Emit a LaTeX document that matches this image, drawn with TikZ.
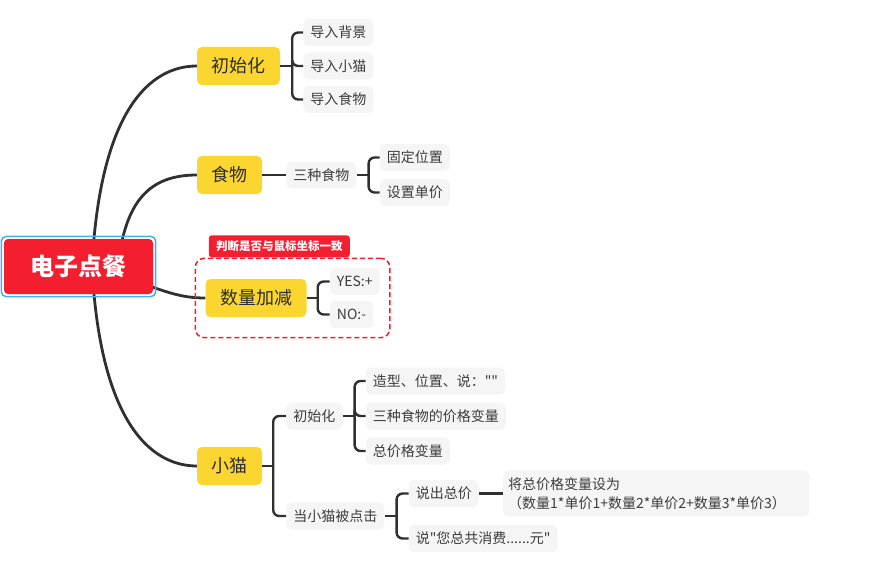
\documentclass[tikz,border=0pt]{standalone}
\usepackage{fontspec}
\setmainfont{Noto Sans CJK SC}[Ligatures=TeXOff]
\usetikzlibrary{positioning,fit,backgrounds}

\definecolor{rootred}{RGB}{243,31,47}
\definecolor{selblue}{RGB}{64,180,240}
\definecolor{topicyellow}{RGB}{252,214,48}
\definecolor{leafgray}{RGB}{245,245,245}
\definecolor{linegray}{RGB}{48,48,48}
\definecolor{textgray}{RGB}{60,60,60}
\definecolor{darktext}{RGB}{45,45,45}

\begin{document}
\begin{tikzpicture}[x=1pt, y=-1pt,
    every node/.style={font=\fontsize{14}{19}\selectfont, text=textgray},
    rootbox/.style={fill=rootred, rounded corners=4pt, minimum width=149pt, minimum height=55pt, text=white, font=\fontsize{24}{28}\selectfont\bfseries},
    topic/.style={fill=topicyellow, rounded corners=5pt, inner xsep=14.5pt, minimum height=38pt, text=darktext, font=\fontsize{18}{22}\selectfont},
    leaf/.style={fill=leafgray, rounded corners=5pt, inner xsep=7pt, minimum height=27pt},
    branch/.style={draw=linegray, line width=2.8pt},
    bracket/.style={draw=linegray, line width=2.4pt, rounded corners=6pt},
    tagbox/.style={fill=rootred, rounded corners=3pt, minimum width=141pt, minimum height=22pt, inner sep=0pt, text=white, font=\fontsize{11.5}{13}\selectfont\bfseries}]
    \useasboundingbox (0,0) rectangle (886,567);

    % 中心主题
    \node[rootbox] (root) at (78.5,266.5) {电子点餐};
    \draw[selblue, line width=1.5pt, rounded corners=5pt] ([xshift=-2.5pt,yshift=-2.5pt]root.south west) rectangle ([xshift=2.5pt,yshift=2.5pt]root.north east);

    % 分支主题
    \node[topic] (ini) at (238.5,66) {初始化};
    \node[topic] (food) at (229.5,175) {食物};
    \node[topic] (qty) at (256,298) {数量加减};
    \node[topic] (kitty) at (229.5,466) {小猫};

    % 初始化
    \node[leaf, right=23pt of ini, yshift=33.5pt] (bg) {导入背景};
    \node[leaf, right=23pt of ini] (cat) {导入小猫};
    \node[leaf, right=23pt of ini, yshift=-33.5pt] (foods) {导入食物};

    % 食物
    \node[leaf, right=24pt of food] (three) {三种食物};
    \node[leaf, right=23pt of three, yshift=17.5pt] (fix) {固定位置};
    \node[leaf, right=23pt of three, yshift=-17.5pt] (price) {设置单价};

    % 数量加减
    \node[leaf, right=23pt of qty, yshift=16.5pt] (yes) {YES:+};
    \node[leaf, right=23pt of qty, yshift=-16.5pt] (no) {NO:-};
    \node[draw=rootred, dash pattern=on 5pt off 3pt, line width=1.5pt, rounded corners=9pt, inner xsep=10pt, inner ysep=9.5pt, fit=(qty)(yes)(no)] (bnd) {};
    \node[tagbox, anchor=south west] (tag) at ([xshift=14pt]bnd.north west) {判断是否与鼠标坐标一致};

    % 小猫
    \node[leaf, right=24pt of kitty, yshift=50pt] (kinit) {初始化};
    \node[leaf, right=24pt of kitty, yshift=-50pt] (click) {当小猫被点击};
    \node[leaf, right=23pt of kinit, yshift=35pt] (look) {造型、位置、说：""};
    \node[leaf, right=23pt of kinit] (vars) {三种食物的价格变量};
    \node[leaf, right=23pt of kinit, yshift=-35pt] (total) {总价格变量};
    \node[leaf, right=24pt of click, yshift=22.5pt] (say) {说出总价};
    \node[leaf, right=24pt of click, yshift=-22.5pt] (spent) {说"您总共消费......元"};
    \node[leaf, right=24pt of say, text width=296pt, align=left, inner xsep=5pt, minimum height=46pt] (formula) {将总价格变量设为\\（数量1*单价1+数量2*单价2+数量3*单价3）};

    % 连线
    \begin{scope}[on background layer]
        \draw[branch] ([xshift=13.5pt]root.center) .. controls +(8,-156) and +(-47,0) .. (ini.west);
        \draw[branch] ([xshift=39.5pt]root.center) .. controls +(7,-66) and +(-47,0) .. (food.west);
        \draw[branch] ([xshift=41.5pt,yshift=-8.5pt]root.center) .. controls +(45,17) and +(-25,0) .. (qty.west);
        \draw[branch] ([xshift=13.5pt]root.center) .. controls +(8,154) and +(-47,0) .. (kitty.west);
    \end{scope}

    \draw[bracket] (ini.east) -- ([xshift=12pt]ini.east) coordinate (iniB);
    \foreach \c in {bg,cat,foods} \draw[bracket] (iniB) |- (\c.west);

    \draw[bracket] (food.east) -- (three.west);
    \draw[bracket] (three.east) -- ([xshift=12pt]three.east) coordinate (threeB);
    \foreach \c in {fix,price} \draw[bracket] (threeB) |- (\c.west);

    \draw[bracket] (qty.east) -- ([xshift=11pt]qty.east) coordinate (qtyB);
    \foreach \c in {yes,no} \draw[bracket] (qtyB) |- (\c.west);

    \draw[bracket] (kitty.east) -- ([xshift=11pt]kitty.east) coordinate (kittyB);
    \foreach \c in {kinit,click} \draw[bracket] (kittyB) |- (\c.west);

    \draw[bracket] (kinit.east) -- ([xshift=12pt]kinit.east) coordinate (kinitB);
    \foreach \c in {look,vars,total} \draw[bracket] (kinitB) |- (\c.west);

    \draw[bracket] (click.east) -- ([xshift=12pt]click.east) coordinate (clickB);
    \foreach \c in {say,spent} \draw[bracket] (clickB) |- (\c.west);

    \draw[bracket] (say.east) -- (formula.west);
\end{tikzpicture}
\end{document}
